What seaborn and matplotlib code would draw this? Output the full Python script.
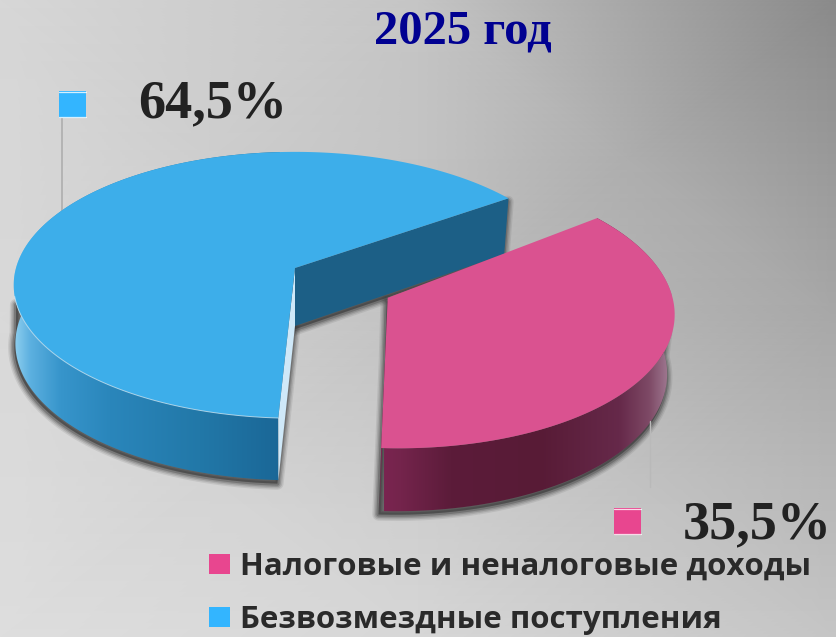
import numpy as np
import matplotlib
matplotlib.use("Agg")
import matplotlib.pyplot as plt
from matplotlib.colors import LinearSegmentedColormap
from matplotlib.patches import Polygon, Rectangle
import seaborn as sns

# DATA
categories = ["Налоговые и неналоговые доходы", "Безвозмездные поступления"]
shares = [35.5, 64.5]
share_labels = ["35,5%", "64,5%"]
title = "2025 год"

# COLOURS
palette = sns.color_palette(["#da5290", "#3daeea"])
marker_colors = ["#e8468f", "#33b5ff"]
cut_wall_color = "#1c5f86"
inner_wall_color = "#cfe8f8"
blue_wall_x = [14, 30, 60, 110, 200, 280]
blue_wall_c = ["#8fcff0", "#5cb0e0", "#3795cb", "#2a86bb", "#2278a8", "#1a6797"]
pink_wall_x = [384, 400, 450, 540, 620, 650, 672]
pink_wall_c = ["#7a2550", "#74244c", "#5c1c3a", "#581b36", "#66294a", "#7e4a66", "#a58098"]

# background corners and mid points (grey level)
bg_x = [0, 418, 836]
bg_y = [0, 318, 637]
bg_grey = [[0.84, 0.77, 0.54],
           [0.85, 0.76, 0.66],
           [0.87, 0.84, 0.77]]

# PIE GEOMETRY (pixels)
APEX_X, APEX_Y = 295, 268
SCALE_X, SCALE_Y = 279, 131
PERSPECTIVE = 0.128
DEPTH = 58
LOW_SHRINK_LEFT = 0.994
LOW_SHRINK_RIGHT = 0.98
PINK_RIM_SHIFT = (3, 0)
PINK_APEX_SHIFT = (5.5, 7)


def project(u, v):
    # unit disk of the pie -> picture, with the far side shrunk
    w = 1 + PERSPECTIVE * v
    return APEX_X + SCALE_X * u / w, APEX_Y - SCALE_Y * v / w, w


def top_points(u, v):
    x, y, w = project(np.asarray(u, float), np.asarray(v, float))
    return np.column_stack([x, y])


def low_points(u, v):
    # the bottom of the cake is further from the eye, so a bit narrower
    x, y, w = project(np.asarray(u, float), np.asarray(v, float))
    shrink = np.where(x < APEX_X, LOW_SHRINK_LEFT, LOW_SHRINK_RIGHT)
    return np.column_stack([APEX_X + (x - APEX_X) * shrink, y + DEPTH / np.sqrt(w)])


def gradient_fill(ax, pts, xs, cols, z):
    xs = np.array(xs, float)
    pos = (xs - xs[0]) / (xs[-1] - xs[0])
    cmap = LinearSegmentedColormap.from_list("wall", list(zip(pos, cols)))
    im = ax.imshow(np.linspace(0, 1, 256)[None, :], cmap=cmap, aspect="auto", zorder=z,
                   extent=(xs[0], xs[-1], pts[:, 1].max() + 2, pts[:, 1].min() - 2))
    clip = Polygon(pts, closed=True, transform=ax.transData)
    im.set_clip_path(clip)


def draw_shadow(ax, pts, z):
    for lw, a in zip([9, 7, 5, 3], [0.10, 0.14, 0.2, 0.3]):
        ax.add_patch(Polygon(pts + [-1, 3.5], closed=True, facecolor="#333333", edgecolor="#333333",
                             lw=lw, alpha=a, zorder=z, joinstyle="round"))


sns.set_theme(style="white")
plt.rcParams["font.family"] = ["Liberation Serif", "DejaVu Sans"]

fig = plt.figure(figsize=(8.36, 6.37), dpi=100)
ax = fig.add_axes([0, 0, 1, 1])

ax.pcolormesh(bg_x, bg_y, bg_grey, shading="gouraud", cmap="gray", vmin=0, vmax=1, zorder=0)

# the pie itself only gives the angles and the explode offset, it is then projected
wedges, _ = ax.pie(shares, explode=[0.35, 0], startangle=267, colors=palette, radius=1)

for i, wedge in enumerate(wedges):
    wedge.set_visible(False)
    t = np.radians(np.linspace(wedge.theta1, wedge.theta2, 240))
    cu, cv = wedge.center
    u = cu + wedge.r * np.cos(t)
    v = cv + wedge.r * np.sin(t)
    rim = top_points(u, v)
    rim_low = low_points(u, v)
    apex = top_points([cu], [cv])
    apex_low = low_points([cu], [cv])
    if i == 0:
        rim = rim + PINK_RIM_SHIFT
        rim_low = rim_low + PINK_RIM_SHIFT
        apex = apex + PINK_APEX_SHIFT
        apex_low = apex_low + PINK_APEX_SHIFT
    top = np.vstack([apex, rim])
    wall = np.vstack([rim, rim_low[::-1]])
    front = np.sin(t) < -0.02

    if i == 1:
        # blue slice sits behind the pink one
        shadow = np.vstack([rim[front][:1] + [2, 30], rim_low[front], apex_low, apex])
        draw_shadow(ax, shadow, 1)
        draw_shadow(ax, np.vstack([apex, rim[:1], rim_low[:1], apex_low]), 1)
        gradient_fill(ax, wall, blue_wall_x, blue_wall_c, 2)
        ax.add_patch(Polygon(np.vstack([apex, rim[:1], rim_low[:1], apex_low]), closed=True,
                             facecolor=cut_wall_color, edgecolor="none", zorder=2.2))
        ax.add_patch(Polygon(np.vstack([apex, rim[-1:], rim_low[-1:], apex_low]), closed=True,
                             facecolor=inner_wall_color, edgecolor="none", zorder=2.2))
        ax.add_patch(Polygon(top, closed=True, facecolor=palette[i], edgecolor="none", zorder=2.4))
        lit = np.sin(t) < -0.2
        ax.plot(rim[lit, 0], rim[lit, 1], color="#d5eefb", lw=0.7, alpha=0.7, zorder=2.5)
    else:
        shadow = np.vstack([apex_low, rim_low[front], rim[front][-1:] + [-4, 30], apex])
        draw_shadow(ax, shadow, 3)
        gradient_fill(ax, wall, pink_wall_x, pink_wall_c, 4)
        ax.add_patch(Polygon(np.vstack([apex, rim[:1], rim_low[:1], apex_low]), closed=True,
                             facecolor=pink_wall_c[0], edgecolor="none", zorder=4))
        ax.add_patch(Polygon(top, closed=True, facecolor=palette[i], edgecolor="none", zorder=4.4))

# LABELS WITH LEADER LINES
ax.plot([62, 62], [118, 212], color="#b4b4b4", lw=1.4, zorder=1.5)
ax.plot([649.5, 649.5], [421, 487], color="#b9b9b9", lw=1.0, zorder=5)


def square(x, y, size, color, z=6):
    ax.add_patch(Rectangle((x, y), size, size, facecolor=color, edgecolor="none", zorder=z))
    ax.plot([x, x + size], [y + 0.6, y + 0.6], color="white", lw=0.9, alpha=0.8, zorder=z + 0.1)
    ax.plot([x, x + size], [y + size - 0.6, y + size - 0.6], color="white", lw=0.9, alpha=0.8, zorder=z + 0.1)


square(59, 91, 27, marker_colors[1])
square(614, 508, 27, marker_colors[0])
ax.text(212.5, 117, share_labels[1], fontsize=39, fontweight="bold", color="#222222",
        ha="center", va="baseline", zorder=6)
ax.text(757.5, 538, share_labels[0], fontsize=39, fontweight="bold", color="#222222",
        ha="center", va="baseline", zorder=6)

ax.text(463, 43, title, fontsize=35, fontweight="bold", color="#000091",
        ha="center", va="baseline", zorder=6)

# LEGEND
legend_y = [554, 607]
for name, color, y in zip(categories, marker_colors, legend_y):
    ax.add_patch(Rectangle((209, y), 21, 20, facecolor=color, edgecolor="none", zorder=6))
    ax.text(240, y + 21, name, fontsize=22.5, fontweight="bold", family=["Open Sans", "DejaVu Sans"],
            color="#2a2a2a", ha="left", va="baseline", zorder=6)

ax.set_xlim(0, 836)
ax.set_ylim(637, 0)
ax.set_aspect("auto")
ax.axis("off")

fig.savefig("out.png", dpi=100)
